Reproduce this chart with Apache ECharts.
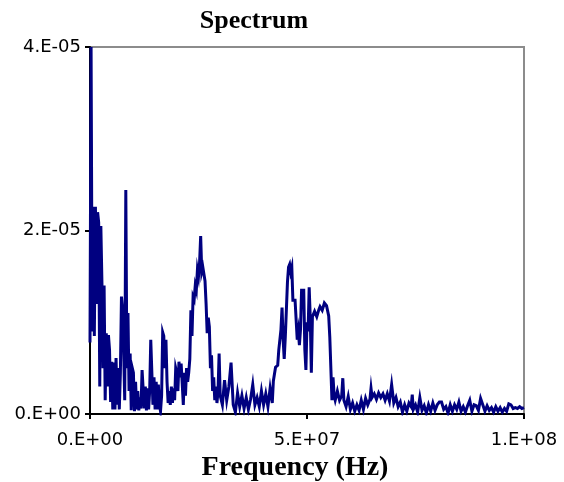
<!DOCTYPE html>
<html>
<head>
<meta charset="utf-8">
<script src="https://cdn.jsdelivr.net/npm/echarts@6/dist/echarts.min.js"></script>
<style>html,body{margin:0;padding:0;background:#fff}#c{width:564px;height:482px}</style>
</head>
<body>
<div id="c"></div>
<script>
// Frequency in MHz (axis shows Hz), amplitude in units of 1e-6
const freqMHz = [
0,0.25,0.5,0.75,1,1.25,1.5,1.75,2,2.25,2.5,2.75,3,3.25,3.5,3.75,4,4.25,4.5,4.75,
5,5.25,5.5,5.75,6,6.25,6.5,6.75,7,7.25,7.5,7.75,8,8.25,8.5,8.75,9,9.25,9.5,9.75,
10,10.25,10.5,10.75,11,11.25,11.5,11.75,12,12.25,12.5,12.75,13,13.25,13.5,13.75,14,14.25,14.5,14.75,
15,15.25,15.5,15.75,16,16.25,16.5,16.75,17,17.25,17.5,17.75,18,18.25,18.5,18.75,19,19.25,19.5,19.75,
20,20.25,20.5,20.75,21,21.25,21.5,21.75,22,22.25,22.5,22.75,23,23.25,23.5,23.75,24,24.25,24.5,24.75,
25,25.25,25.5,25.75,26,26.25,26.5,26.75,27,27.25,27.5,27.75,28,28.25,28.5,28.75,29,29.25,29.5,29.75,
30,30.5,31,31.5,32,32.5,33,33.5,34,34.5,35,35.5,36,36.5,37,37.5,38,38.5,39,39.5,
40,40.5,41,41.5,42,42.25,42.75,43.25,43.5,44,44.25,44.5,44.75,45,45.25,45.5,45.75,46,46.25,46.5,
46.75,47.25,47.5,47.75,48,48.25,48.5,48.75,49.25,49.5,49.75,50,50.25,50.5,50.75,51,51.25,51.75,52.25,52.75,
53,53.5,54,54.5,54.75,55,55.25,55.5,55.75,56,56.25,56.5,57,57.5,58,58.25,58.5,59,59.5,60,
60.5,61,61.5,62,62.5,63,63.5,64,64.5,64.75,65,65.5,66,66.5,67,67.5,68,68.5,69,69.5,
70,70.5,71,71.5,72,72.5,73,73.5,74,74.25,74.5,75,75.5,76,76.5,77,77.5,78,78.5,79,
79.5,80,80.5,81,81.5,82,82.5,83,83.5,84,84.5,85,85.5,86,86.5,87,87.5,88,88.5,89,
89.5,90,90.5,91,91.5,92,92.5,93,93.5,94,94.5,95,95.5,96,96.5,97,97.5,98,98.5,99,
99.5,100
];
const ampE6 = [
7.8,40,9.0,22.6,8.5,22.6,12,22.0,20.9,3.0,20.5,14.3,5,14.0,1.5,8.8,3.0,8.6,7.0,1.3,
5.7,0.5,5.6,0.5,6.1,1.0,5.0,0.5,4.5,12.8,11.5,7,1.5,24.4,5,11.0,2.5,6.6,0.4,5.0,
4.5,0.3,3.5,0.5,2.5,0.4,1.8,0.6,4.8,4.6,0.6,3.0,0.4,2.8,0.5,2.5,8.1,7.9,1.0,4.0,
0.5,3.5,0.5,3.2,1.0,0.3,2.0,8.9,8.5,5.0,8.1,3.5,1.2,2.5,1.0,3.0,1.2,2.8,1.5,5.0,
4.5,2.5,5.7,4.0,5.5,3.3,1.0,4.5,2.0,5.0,3.5,4.5,6.0,11.3,8.5,12.8,12.5,14.0,13.5,15.7,
15.0,16.5,19.4,15.5,16.0,15.9,14.5,12.0,8.8,10.5,9.5,5.0,6.4,2.5,4.0,1.5,3.0,1.2,2.5,6.6,
2.0,1.0,3.7,1.5,3.0,5.6,1.0,0.2,2.3,0.8,2.0,0.6,1.8,0.5,1.6,3.2,1.0,1.8,0.8,2.5,
1.0,2.2,0.8,2.8,1.2,3.6,5.1,5.3,7.0,9.2,11.6,8.1,6.0,8.4,8.6,14.4,16.0,16.3,15.5,16.0,
12.4,12.4,12.5,8.1,9.0,7.5,9.2,13.5,13.5,7.0,4.8,10.0,9.0,13.8,10.5,4.5,10.6,11.2,10.6,11.4,
11.7,11.3,12.1,11.8,12.0,10.7,8.4,8.2,1.5,4.0,2.0,1.5,2.5,1.5,2.0,3.9,1.5,0.8,1.9,0.5,
1.2,0.3,1.0,0.4,1.5,0.5,1.7,1.0,1.6,2.8,1.8,2.2,1.6,2.3,1.8,2.2,1.5,2.2,1.4,3.2,
1.2,1.8,0.8,1.3,0.2,1.0,0.3,1.2,0.8,2.1,0.5,1.0,0.2,1.8,0.4,0.9,0.1,1.0,0.3,1.2,
0.4,1.0,1.3,1.3,0.5,0.8,0.1,1.0,0.3,1.0,0.5,1.3,0.3,0.8,0.2,0.9,1.5,0.3,1.0,0.9,
0.4,1.7,1.0,0.3,0.9,0.4,0.7,0.2,0.8,0.3,0.7,0.2,0.6,0.3,1.1,1.0,0.6,0.7,0.6,0.8,
0.6,0.7
];
const xTickLabels = ['0.E+00', '5.E+07', '1.E+08'];
const yTickLabels = ['0.E+00', '2.E-05', '4.E-05'];
const titleText = 'Spectrum';
const xTitle = 'Frequency (Hz)';

const seriesData = freqMHz.map((f, i) => [f, ampE6[i]]);
const chart = echarts.init(document.getElementById('c'), null, {renderer: 'canvas'});
chart.setOption({
  animation: false,
  backgroundColor: '#ffffff',
  title: {
    text: titleText,
    left: 249, top: 3, textAlign: 'center',
    textStyle: {fontFamily: 'Liberation Serif', fontWeight: 'bold', fontSize: 26, color: '#000'}
  },
  grid: {
    left: 90, top: 47, right: 40, bottom: 68,
    containLabel: false, outerBoundsMode: 'none',
    show: true, borderColor: '#8c8c8c', borderWidth: 2, backgroundColor: 'transparent'
  },
  xAxis: {
    type: 'value', min: 0, max: 100, interval: 50,
    name: xTitle, nameLocation: 'middle', nameGap: 36,
    nameTextStyle: {fontFamily: 'Liberation Serif', fontWeight: 'bold', fontSize: 28, color: '#000', padding: [0, 24, 0, 0]},
    axisLine: {show: true, onZero: false, lineStyle: {color: '#000', width: 2}},
    axisTick: {show: true, length: 5, lineStyle: {color: '#000', width: 2}},
    splitLine: {show: false},
    axisLabel: {
      margin: 17, fontFamily: 'DejaVu Sans', fontSize: 18, color: '#000',
      formatter: v => xTickLabels[Math.round(v / 50)]
    }
  },
  yAxis: {
    type: 'value', min: 0, max: 40, interval: 20,
    axisLine: {show: true, onZero: false, lineStyle: {color: '#000', width: 2}},
    axisTick: {show: true, length: 5, lineStyle: {color: '#000', width: 2}},
    splitLine: {show: false},
    axisLabel: {
      margin: 9, fontFamily: 'DejaVu Sans', fontSize: 18, color: '#000',
      formatter: v => yTickLabels[Math.round(v / 20)]
    }
  },
  series: [{
    type: 'line', data: seriesData, showSymbol: false, symbol: 'none',
    lineStyle: {color: '#000080', width: 3, join: 'miter'},
    clip: true
  }]
});
</script>
</body>
</html>
